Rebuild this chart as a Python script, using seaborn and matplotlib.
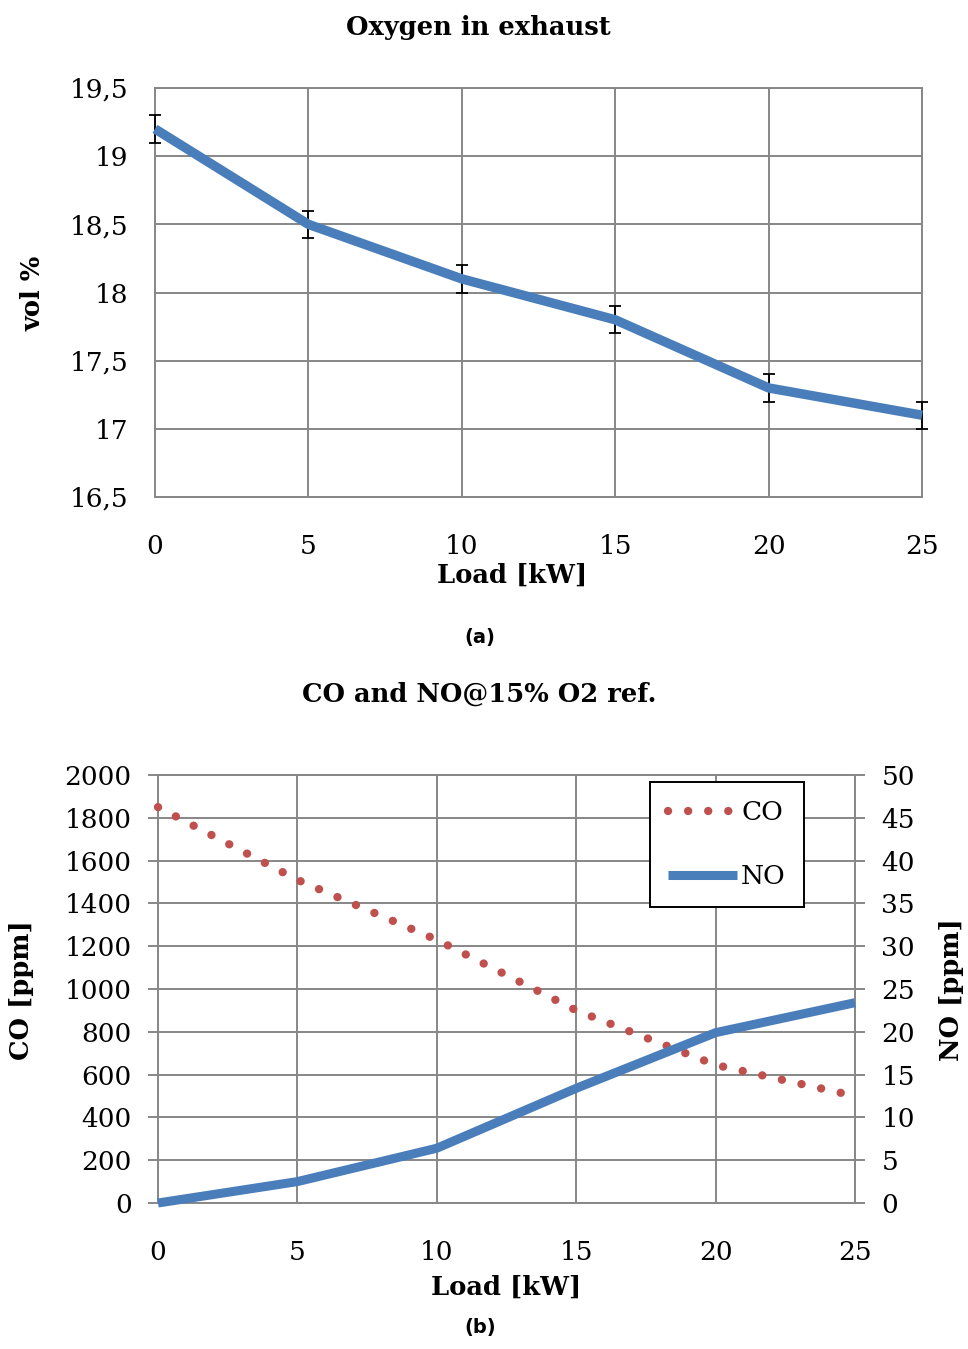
import numpy as np
import pandas as pd
import matplotlib
matplotlib.use('Agg')
import matplotlib.pyplot as plt
import seaborn as sns
from matplotlib.ticker import FuncFormatter, MultipleLocator

# 数据
load_kw = [0, 5, 10, 15, 20, 25]
oxygen_vol = [19.2, 18.5, 18.1, 17.8, 17.3, 17.1]
oxygen_err = [0.1, 0.1, 0.1, 0.1, 0.1, 0.1]
co_ppm = [1850, 1510, 1230, 900, 645, 500]
no_ppm = [0.0, 2.5, 6.4, 13.4, 19.9, 23.4]

sns.set_style('white')
plt.rcParams['font.family'] = ['DejaVu Serif']
plt.rcParams['axes.unicode_minus'] = False
plt.rcParams['text.color'] = 'black'
plt.rcParams['xtick.labelcolor'] = 'black'
plt.rcParams['ytick.labelcolor'] = 'black'

BLUE = '#4a7ebb'
RED = '#c0504d'
GRID = '#878787'
W, H = 968, 1349
TICK_FS = 19
LAB_FS = 18.5

fig = plt.figure(figsize=(W / 100, H / 100), dpi=100)


def px_axes(left, top, right, bottom):
    return fig.add_axes([left / W, 1 - bottom / H, (right - left) / W, (bottom - top) / H])


def style_axes(ax):
    ax.grid(True, color=GRID, linewidth=1.4)
    for sp in ax.spines.values():
        sp.set_color(GRID)
        sp.set_linewidth(1.4)
    ax.tick_params(axis='both', which='both', length=7, width=1.4, color=GRID,
                   labelsize=TICK_FS, pad=12, direction='out', labelcolor='black')
    ax.tick_params(axis='x', pad=20)
    ax.set_xlabel('')
    ax.set_ylabel('')


comma = FuncFormatter(lambda v, p: f'{v:g}'.replace('.', ','))

# (a) 排气中的氧气
df_a = pd.DataFrame({'load': load_kw, 'o2': oxygen_vol, 'err': oxygen_err})
ax1 = px_axes(155, 88, 922, 497)
ax1.errorbar(df_a['load'], df_a['o2'], yerr=df_a['err'], fmt='none',
             ecolor='black', elinewidth=1.3, capsize=4, capthick=1.3, zorder=3,
             clip_on=False)
sns.lineplot(data=df_a, x='load', y='o2', ax=ax1, color=BLUE, linewidth=6.8,
             solid_capstyle='butt', zorder=4, clip_on=False)
ax1.set_xlim(0, 25)
ax1.set_ylim(16.5, 19.5)
ax1.xaxis.set_major_locator(MultipleLocator(5))
ax1.yaxis.set_major_locator(MultipleLocator(0.5))
ax1.yaxis.set_major_formatter(comma)
style_axes(ax1)

fig.text(478 / W, 1 - 27 / H, 'Oxygen in exhaust', ha='center', va='center',
         fontsize=LAB_FS, fontweight='bold')
fig.text(512 / W, 1 - 575 / H, 'Load [kW]', ha='center', va='center',
         fontsize=LAB_FS, fontweight='bold')
fig.text(33 / W, 1 - 293 / H, 'vol %', ha='center', va='center', rotation=90,
         fontsize=LAB_FS, fontweight='bold')
fig.text(480 / W, 1 - 638 / H, '(a)', ha='center', va='center', fontsize=14,
         fontweight='bold', family='DejaVu Sans')

# (b) CO 与 NO
df_b = pd.DataFrame({'load': load_kw, 'co': co_ppm, 'no': no_ppm})
ax2 = px_axes(158, 775, 855, 1203)
sns.lineplot(data=df_b, x='load', y='co', ax=ax2, color=RED, linewidth=6,
             linestyle=(0, (0.01, 2.4)), dash_capstyle='round', label='CO',
             legend=False, zorder=3, clip_on=False)
ax2.set_xlim(0, 25)
ax2.set_ylim(0, 2000)
ax2.xaxis.set_major_locator(MultipleLocator(5))
ax2.yaxis.set_major_locator(MultipleLocator(200))
style_axes(ax2)

ax3 = ax2.twinx()
sns.lineplot(data=df_b, x='load', y='no', ax=ax3, color=BLUE, linewidth=6.5,
             solid_capstyle='butt', label='NO', legend=False, zorder=4, clip_on=False)
ax3.set_ylim(0, 50)
ax3.yaxis.set_major_locator(MultipleLocator(5))
ax3.grid(False)
for sp in ax3.spines.values():
    sp.set_visible(False)
ax3.tick_params(axis='y', length=7, width=1.4, color=GRID, labelsize=TICK_FS, pad=12,
                labelcolor='black')
ax3.set_ylabel('')

h1, l1 = ax2.get_legend_handles_labels()
h2, l2 = ax3.get_legend_handles_labels()
leg = ax3.legend(h1 + h2, l1 + l2, loc='upper left',
                 bbox_to_anchor=(650 / W, 1 - 782 / H), bbox_transform=fig.transFigure,
                 borderaxespad=0, fontsize=TICK_FS, frameon=True, fancybox=False,
                 handlelength=2.6, handletextpad=0.15, labelspacing=1.45,
                 borderpad=0.7, framealpha=1)
leg.get_frame().set_edgecolor('black')
leg.get_frame().set_linewidth(1.4)

fig.text(479 / W, 1 - 694 / H, 'CO and NO@15% O2 ref.', ha='center', va='center',
         fontsize=LAB_FS, fontweight='bold')
fig.text(506 / W, 1 - 1287 / H, 'Load [kW]', ha='center', va='center',
         fontsize=LAB_FS, fontweight='bold')
fig.text(22 / W, 1 - 990 / H, 'CO [ppm]', ha='center', va='center', rotation=90,
         fontsize=LAB_FS, fontweight='bold')
fig.text(952 / W, 1 - 990 / H, 'NO [ppm]', ha='center', va='center', rotation=90,
         fontsize=LAB_FS, fontweight='bold')
fig.text(480 / W, 1 - 1328 / H, '(b)', ha='center', va='center', fontsize=14,
         fontweight='bold', family='DejaVu Sans')

fig.savefig('out.png', dpi=100, facecolor='white')
